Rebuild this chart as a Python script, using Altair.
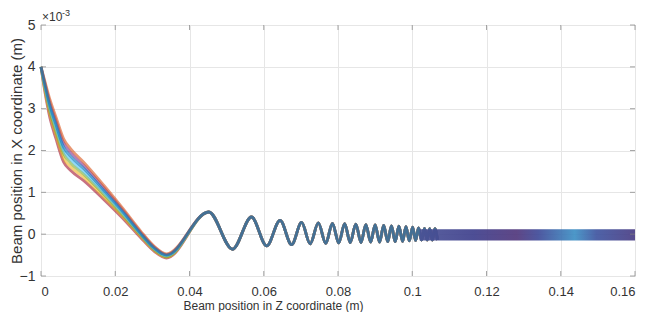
import altair as alt
import pandas as pd

# ---- data (y in units of 1e-3 m) ----
x_early = [0.0, 0.001, 0.0024, 0.004, 0.0061, 0.008, 0.0115, 0.0169, 0.022, 0.0268, 0.0305, 0.0338]
y_s1 = [4.0, 3.43, 2.78, 2.29, 1.72, 1.52, 1.28, 0.83, 0.38, -0.08, -0.41, -0.57]
y_s2 = [4.0, 3.67, 3.22, 2.81, 2.28, 2.04, 1.72, 1.17, 0.62, 0.08, -0.29, -0.47]
y_s3 = [4.0, 3.47, 2.86, 2.38, 1.82, 1.61, 1.36, 0.89, 0.42, -0.05, -0.39, -0.55]
y_s4 = [4.0, 3.51, 2.93, 2.47, 1.92, 1.70, 1.43, 0.95, 0.46, -0.02, -0.37, -0.54]
y_s5 = [4.0, 3.55, 3.00, 2.55, 2.00, 1.78, 1.50, 1.00, 0.50, 0.00, -0.35, -0.52]
y_s6 = [4.0, 3.63, 3.14, 2.72, 2.18, 1.95, 1.64, 1.11, 0.58, 0.05, -0.31, -0.49]
y_s7 = [4.0, 3.59, 3.07, 2.63, 2.08, 1.86, 1.57, 1.05, 0.54, 0.02, -0.33, -0.50]

x_osc = [0.0452, 0.0516, 0.0567, 0.0608, 0.0644, 0.0675, 0.0702, 0.0725, 0.0747, 0.0767,
         0.0785, 0.0802, 0.0818, 0.0833, 0.0848, 0.0862, 0.0875, 0.0888, 0.0900, 0.0912,
         0.0923, 0.0934, 0.0944, 0.0954, 0.0964, 0.0974, 0.0983, 0.0992, 0.1001, 0.1009,
         0.1017, 0.1025, 0.1033, 0.1040, 0.1047, 0.1054, 0.1061, 0.1068]
y_osc = [0.53, -0.36, 0.41, -0.28, 0.33, -0.25, 0.28, -0.23, 0.27, -0.22,
         0.26, -0.21, 0.25, -0.20, 0.24, -0.20, 0.23, -0.19, 0.22, -0.19,
         0.21, -0.18, 0.20, -0.18, 0.19, -0.17, 0.18, -0.16, 0.17, -0.15,
         0.15, -0.14, 0.14, -0.14, 0.13, -0.14, 0.13, -0.14]

# draw order: first listed is drawn first (bottom)
series_names = ["s1", "s2", "s3", "s4", "s5", "s6", "s7"]
series_colors = ["#A2142F", "#EDB120", "#77AC30", "#7E2F8E", "#4DBEEE", "#D95319", "#0072BD"]
series_early = [y_s1, y_s3, y_s4, y_s6, y_s5, y_s2, y_s7]

band_x = [0.102, 0.16]
band_hi = [0.12, 0.12]
band_lo = [-0.15, -0.15]

x_ticks = [0, 0.02, 0.04, 0.06, 0.08, 0.1, 0.12, 0.14, 0.16]
y_ticks = [-1, 0, 1, 2, 3, 4, 5]

rows = []
for name, ys in zip(series_names, series_early):
    for xv, yv in zip(x_early + x_osc, ys + y_osc):
        rows.append({"series": name, "x": xv, "y": yv})
df = pd.DataFrame(rows)

band_df = pd.DataFrame({"x": band_x, "y": band_lo, "y2": band_hi})

AX = "#808080"
GRID = "#e6e6e6"
TXT = "#333333"
FONT = "Liberation Sans"

xscale = alt.Scale(domain=[0, 0.16], nice=False, zero=False)
yscale = alt.Scale(domain=[-1, 5], nice=False, zero=False)

lines = alt.Chart(df).mark_line(interpolate="monotone", strokeWidth=2.8, opacity=0.6).encode(
    x=alt.X("x:Q", scale=xscale,
            axis=alt.Axis(values=x_ticks, format="~g", grid=True, gridColor=GRID, ticks=False,
                          domain=False, labelFont=FONT, labelFontSize=13, labelColor=TXT,
                          labelPadding=9, title="Beam position in Z coordinate (m)",
                          titleFont=FONT, titleFontSize=12, titleFontWeight="normal",
                          titleColor=TXT, titlePadding=2, titleX=232)),
    y=alt.Y("y:Q", scale=yscale,
            axis=alt.Axis(values=y_ticks, format="d", grid=True, gridColor=GRID, ticks=False,
                          domain=False, labelFont=FONT, labelFontSize=14, labelColor=TXT,
                          labelPadding=6, title="Beam position in X coordinate (m)",
                          titleFont=FONT, titleFontSize=15, titleFontWeight="normal",
                          titleColor=TXT, titleX=-25, titleY=125.5, titleAngle=270,
                          titleAlign="center", titleBaseline="middle")),
    color=alt.Color("series:N", scale=alt.Scale(domain=series_names, range=series_colors), legend=None),
    order=alt.Order("x:Q"),
)

band = alt.Chart(band_df).mark_area(
    opacity=0.92,
    color=alt.Gradient(
        gradient="linear", x1=0, x2=1, y1=0, y2=0,
        stops=[
            alt.GradientStop(offset=0.0, color="#4a5296"),
            alt.GradientStop(offset=0.25, color="#3e3f8c"),
            alt.GradientStop(offset=0.45, color="#51377c"),
            alt.GradientStop(offset=0.55, color="#3f4a98"),
            alt.GradientStop(offset=0.72, color="#3d8fc4"),
            alt.GradientStop(offset=0.82, color="#3f55a0"),
            alt.GradientStop(offset=1.0, color="#4a3d84"),
        ],
    ),
).encode(
    x=alt.X("x:Q", scale=xscale),
    y=alt.Y("y:Q", scale=yscale),
    y2="y2:Q",
)

xt_df = pd.DataFrame({"x": x_ticks})
yt_df = pd.DataFrame({"y": y_ticks})

tick_bottom = alt.Chart(xt_df).mark_tick(orient="vertical", size=5, thickness=1, color=AX, yOffset=-2.5).encode(
    x=alt.X("x:Q", scale=xscale), y=alt.YDatum(-1))
tick_top = alt.Chart(xt_df).mark_tick(orient="vertical", size=5, thickness=1, color=AX, yOffset=2.5).encode(
    x=alt.X("x:Q", scale=xscale), y=alt.YDatum(5))
tick_left = alt.Chart(yt_df).mark_tick(orient="horizontal", size=5, thickness=1, color=AX, xOffset=2.5).encode(
    y=alt.Y("y:Q", scale=yscale), x=alt.XDatum(0))
tick_right = alt.Chart(yt_df).mark_tick(orient="horizontal", size=5, thickness=1, color=AX, xOffset=-2.5).encode(
    y=alt.Y("y:Q", scale=yscale), x=alt.XDatum(0.16))

exp_df = pd.DataFrame({"x": [0.0], "y": [5.0], "t": ["×10"]})
exp_df2 = pd.DataFrame({"x": [0.0], "y": [5.0], "t": ["-3"]})
mult = alt.Chart(exp_df).mark_text(align="left", baseline="alphabetic", dx=1, dy=-4,
                                   font=FONT, fontSize=12, color=TXT).encode(
    x=alt.X("x:Q", scale=xscale), y=alt.Y("y:Q", scale=yscale), text="t:N")
expo = alt.Chart(exp_df2).mark_text(align="left", baseline="alphabetic", dx=21, dy=-9,
                                    font=FONT, fontSize=9, color=TXT).encode(
    x=alt.X("x:Q", scale=xscale), y=alt.Y("y:Q", scale=yscale), text="t:N")

chart = alt.layer(lines, band, tick_bottom, tick_top, tick_left, tick_right, mult, expo).properties(
    width=594, height=251,
    autosize=alt.AutoSizeParams(type="none"),
    padding={"left": 33, "top": 17, "right": 5, "bottom": 36},
).configure_view(stroke=AX, strokeWidth=1).configure(background="white")

chart.save("out.html", embed_options={"renderer": "svg", "actions": False})
